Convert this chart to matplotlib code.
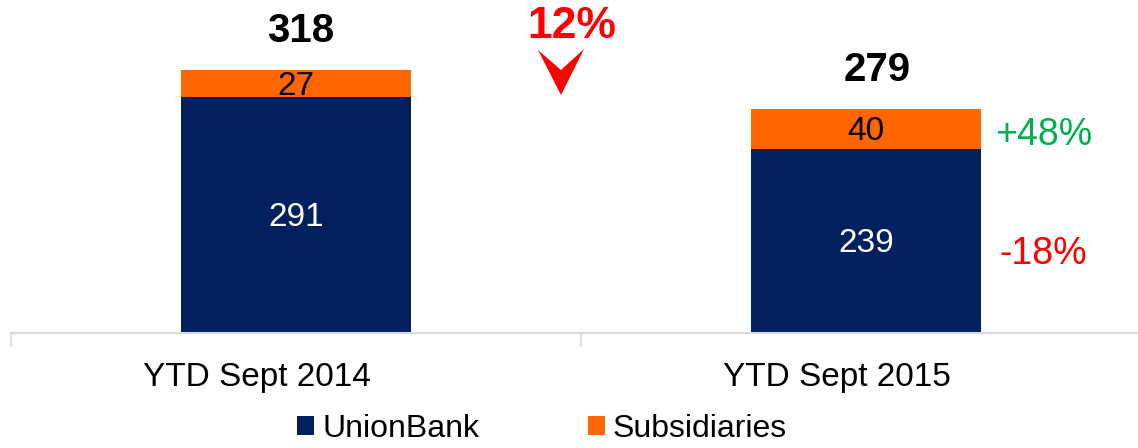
import numpy as np
import matplotlib.pyplot as plt
from matplotlib.patches import Polygon
from matplotlib.transforms import ScaledTranslation

plt.rcParams['font.family'] = ['Liberation Sans', 'DejaVu Sans']

categories = ['YTD Sept 2014', 'YTD Sept 2015']
unionbank = np.array([291, 239])
subsidiaries = np.array([27, 40])
totals = unionbank + subsidiaries
change_total = '12%'
change_sub = '+48%'
change_ub = '-18%'

navy = '#002060'
orange = '#FF6600'

fig = plt.figure(figsize=(11.38, 4.48), dpi=100)
ax = fig.add_axes([11 / 1138, 115 / 448, 1140 / 1138, 333 / 448])

x = np.arange(len(categories))
w = 0.403
ax.bar(x, unionbank, w, color=navy, label='UnionBank')
ax.bar(x, subsidiaries, w, bottom=unionbank, color=orange, label='Subsidiaries')

ymin, ymax = 55, 388
ax.set_xlim(-0.5, 1.5)
ax.set_ylim(ymin, ymax)

for i in x:
    ax.annotate(str(unionbank[i]), (i, (ymin + unionbank[i]) / 2), xytext=(0, -2),
                textcoords='offset points', ha='center', va='center', color='white', fontsize=24)
    ax.annotate(str(subsidiaries[i]), (i, unionbank[i] + subsidiaries[i] / 2), xytext=(0, -2),
                textcoords='offset points', ha='center', va='center', color='black', fontsize=24)
    ax.annotate(str(totals[i]), (i, totals[i]), xytext=(3 + 5 * i, 28), textcoords='offset points',
                ha='center', va='center', fontsize=29, fontweight='bold')

# change labels next to the second bar
ax.annotate(change_sub, (1 + w / 2, unionbank[1] + subsidiaries[1] / 2), xytext=(10, -4),
            textcoords='offset points', ha='left', va='center', color='#00B050', fontsize=27)
ax.annotate(change_ub, (1 + w / 2, (ymin + unionbank[1]) / 2), xytext=(13, -9),
            textcoords='offset points', ha='left', va='center', color='#FF0000', fontsize=27)

# total change and arrow
fig.text(572 / 1138, 1 - 26 / 448, change_total, ha='center', va='center', color='#FF0000',
         fontsize=32, fontweight='bold')
pts = [(538, 50), (561, 70), (584, 49), (561, 95)]
arrow = Polygon([(px / 1138, 1 - py / 448) for px, py in pts], closed=True,
                transform=fig.transFigure, color='#FF0000', lw=0)
fig.patches.append(arrow)

for s in ['top', 'left', 'right']:
    ax.spines[s].set_visible(False)
ax.spines['bottom'].set_color('#D9D9D9')
ax.spines['bottom'].set_linewidth(1.5)
ax.set_yticks([])
ax.set_xticks(x)
ax.set_xticklabels(categories, fontsize=24)
ax.tick_params(axis='x', which='major', length=0, pad=21)
ax.set_xticks([-0.5, 0.5, 1.5], minor=True)
ax.tick_params(axis='x', which='minor', length=10, width=1.2, color='#D9D9D9')
for lab, dx in zip(ax.get_xticklabels(), [-39, -29]):
    lab.set_transform(lab.get_transform() + ScaledTranslation(dx / 100, 0, fig.dpi_scale_trans))

fig.legend(loc='center', bbox_to_anchor=(542 / 1138, 1 - 429 / 448), ncol=2, frameon=False,
           fontsize=23, handlelength=0.53, handleheight=0.53, handletextpad=0.25,
           columnspacing=3.4, borderpad=0)

fig.savefig('out.png', dpi=100)
